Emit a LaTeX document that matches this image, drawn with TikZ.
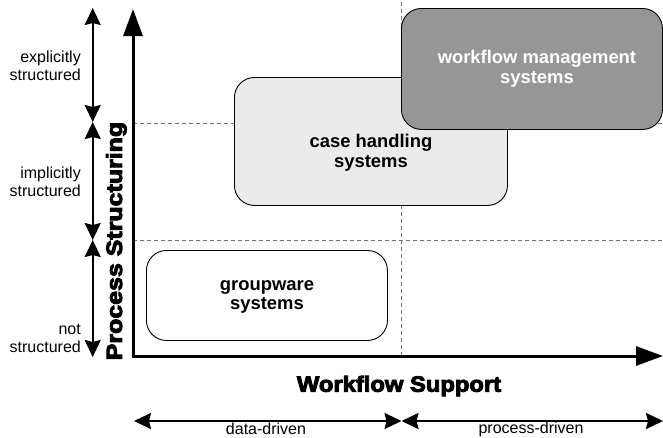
\documentclass[tikz,border=0pt]{standalone}
\usepackage{fontspec}
\setmainfont{Liberation Sans}
\newfontfamily\heavyfont{Liberation Sans}[BoldFeatures={FakeBold=4.2,FakeStretch=1.08}]
\usetikzlibrary{arrows.meta}

\begin{document}
\begin{tikzpicture}[x=1pt,y=-1pt,
  axisline/.style={line width=3pt, line join=miter,
    {Triangle[length=27pt,width=19pt]}-{Triangle[length=27pt,width=19pt]}},
  spanarrow/.style={line width=2pt,
    {Stealth[length=17pt,width=16pt,inset=2pt]}-{Stealth[length=17pt,width=16pt,inset=2pt]}},
  gridline/.style={draw=black!55, line width=0.8pt, dash pattern=on 4pt off 3pt},
  box/.style={draw=black, line width=0.9pt, rounded corners=20pt,
    anchor=north west, inner sep=0pt},
  boxtext/.style={font=\fontsize{18.4}{19.8}\selectfont\bfseries, align=center},
  sidelabel/.style={font=\fontsize{16}{18}\selectfont, align=right, anchor=east, inner sep=0pt},
  spanlabel/.style={font=\fontsize{16}{18}\selectfont},
  axislabel/.style={font=\fontsize{22}{26}\selectfont\heavyfont\bfseries}
]
\useasboundingbox (0,0) rectangle (663,437);

% axis corner points
\coordinate (ytip)   at (133,9);
\coordinate (origin) at (133,356);
\coordinate (xtip)   at (663,356);

% dashed grid
\coordinate (h1a) at (133,123); \coordinate (h1b) at (663,123);
\coordinate (h2a) at (133,240); \coordinate (h2b) at (663,240);
\coordinate (v1a) at (401,2);   \coordinate (v1b) at (401,356);
\draw[gridline] (h1a) -- (h1b);
\draw[gridline] (h2a) -- (h2b);
\draw[gridline] (v1a) -- (v1b);

% system classes
\node[box, fill=black!8, minimum width=273pt, minimum height=128pt] (ch) at (234,77) {};
\node[box, fill=black!41, minimum width=261pt, minimum height=121pt] (wf) at (401,8) {};
\node[box, fill=white, minimum width=241pt, minimum height=90pt] (gw) at (146,250) {};

\node[boxtext] (chtext) at ([yshift=-11pt]ch.center) {case handling\\systems};
\node[boxtext, text=white] (wftext) at ([xshift=5pt]wf.center) {workflow management\\systems};
\node[boxtext] (gwtext) at ([yshift=-1.5pt]gw.center) {groupware\\systems};

% axes
\draw[axisline] (ytip) -- (origin) -- (xtip);
\node[axislabel, rotate=90] (ylab) at (116.3,241) {\scalebox{1.05}[1]{Process Structuring}};
\node[axislabel] (xlab) at (399,386) {Workflow Support};

% structuring ranges
\coordinate (s0) at (92.7,8);
\coordinate (s1) at (92.7,122);
\coordinate (s2) at (92.7,240);
\coordinate (s3) at (92.7,357);
\draw[spanarrow] (s0) -- (s1);
\draw[spanarrow] (s1) -- (s2);
\draw[spanarrow] (s2) -- (s3);
\node[sidelabel] (explicit) at (81,66) {explicitly\\structured};
\node[sidelabel] (implicit) at (81,182) {implicitly\\structured};
\node[sidelabel] (notstr) at (81,338) {not\\structured};

% support ranges
\coordinate (b0) at (134,421);
\coordinate (b1) at (401.5,421);
\coordinate (b2) at (663,421);
\draw[spanarrow] (b0) -- (b1);
\draw[spanarrow] (b1) -- (b2);
\node[spanlabel] (data) at (266,429) {data-driven};
\node[spanlabel] (process) at (531,429) {process-driven};
\end{tikzpicture}
\end{document}
